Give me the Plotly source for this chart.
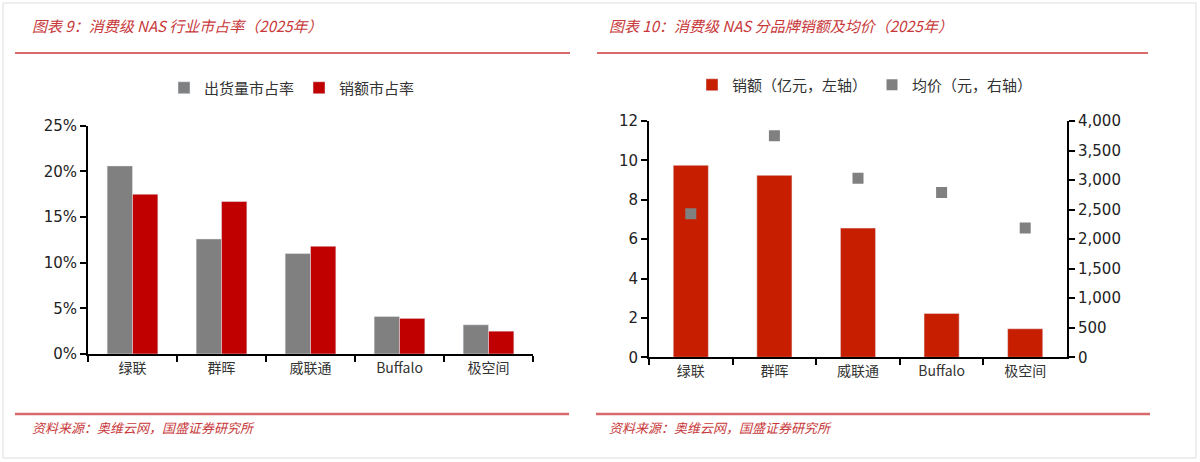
import plotly.graph_objects as go

W, H = 1200, 462

# ---- data ----
brands = ["绿联", "群晖", "威联通", "Buffalo", "极空间"]
ship_share = [0.206, 0.126, 0.110, 0.041, 0.032]
sales_share = [0.175, 0.167, 0.118, 0.039, 0.025]
sales_amt = [9.75, 9.24, 6.56, 2.23, 1.45]
avg_price = [2430, 3750, 3030, 2790, 2190]

left_ticks = [0, 0.05, 0.10, 0.15, 0.20, 0.25]
left_ticktext = ["0%", "5%", "10%", "15%", "20%", "25%"]
r1_ticks = [0, 2, 4, 6, 8, 10, 12]
r2_ticks = [0, 500, 1000, 1500, 2000, 2500, 3000, 3500, 4000]
r2_ticktext = ["0", "500", "1,000", "1,500", "2,000", "2,500", "3,000", "3,500", "4,000"]

title_left = "图表 9：消费级 NAS 行业市占率（2025年）"
title_right = "图表 10：消费级 NAS 分品牌销额及均价（2025年）"
source = "资料来源：奥维云网，国盛证券研究所"

GRAY = "#808080"
RED1 = "#C00000"
RED2 = "#C81E00"
HEAD = "#C8383A"
LINE = "#D96A6C"
CJK = "Noto Sans CJK SC"
NUM = "DejaVu Sans"


def px(x):
    return x / W


def py(y):
    return 1 - y / H


fig = go.Figure()

fig.add_trace(go.Bar(x=brands, y=ship_share, name="出货量市占率", marker_color=GRAY,
                     xaxis="x", yaxis="y", legend="legend"))
fig.add_trace(go.Bar(x=brands, y=sales_share, name="销额市占率", marker_color=RED1,
                     xaxis="x", yaxis="y", legend="legend"))
fig.add_trace(go.Bar(x=brands, y=sales_amt, name="销额（亿元，左轴）", marker_color=RED2,
                     xaxis="x2", yaxis="y2", legend="legend2", width=0.42))
fig.add_trace(go.Scatter(x=brands, y=avg_price, name="均价（元，右轴）", mode="markers",
                         marker=dict(symbol="square", size=11, color=GRAY),
                         xaxis="x2", yaxis="y3", legend="legend2"))

axis_common = dict(showline=True, linecolor="black", linewidth=2, showgrid=False,
                   zeroline=False, ticks="outside", tickcolor="black", tickwidth=2, ticklen=6)

fig.update_layout(
    width=W, height=H,
    margin=dict(l=0, r=0, t=0, b=0, autoexpand=False),
    paper_bgcolor="white", plot_bgcolor="white",
    bargap=0.43,
    xaxis=dict(domain=[px(88), px(533)], anchor="y", type="category", tickson="boundaries",
               tickfont=dict(family=CJK, size=14, color="#333"), **axis_common),
    yaxis=dict(domain=[py(354), py(125.7)], anchor="x", range=[0, 0.25],
               tickvals=left_ticks, ticktext=left_ticktext,
               tickfont=dict(family=NUM, size=15, color="#222"), **axis_common),
    xaxis2=dict(domain=[px(649), px(1067)], anchor="y2", type="category", tickson="boundaries",
                tickfont=dict(family=CJK, size=14, color="#333"), **axis_common),
    yaxis2=dict(domain=[py(357.3), py(121)], anchor="x2", range=[0, 12],
                tickvals=r1_ticks, tickfont=dict(family=NUM, size=15, color="#222"), **axis_common),
    yaxis3=dict(overlaying="y2", side="right", anchor="x2", range=[0, 4000],
                tickvals=r2_ticks, ticktext=r2_ticktext,
                tickfont=dict(family=NUM, size=15, color="#222"), **axis_common),
    legend=dict(orientation="h", x=px(292), y=py(88), xanchor="center", yanchor="middle",
                font=dict(family=CJK, size=15, color="#333"), itemwidth=30,
                bgcolor="rgba(0,0,0,0)"),
    legend2=dict(orientation="h", x=px(865), y=py(85), xanchor="center", yanchor="middle",
                 font=dict(family=CJK, size=15, color="#333"), itemwidth=30,
                 bgcolor="rgba(0,0,0,0)"),
    showlegend=True,
)

# headers, rules, sources
anns = [
    dict(text=title_left, x=px(30), y=py(26)),
    dict(text=title_right, x=px(607), y=py(26)),
    dict(text=source, x=px(30), y=py(427)),
    dict(text=source, x=px(607), y=py(427)),
]
for a in anns:
    fig.add_annotation(text="<i>" + a["text"] + "</i>", x=a["x"], y=a["y"], xref="paper", yref="paper",
                       xanchor="left", yanchor="middle", showarrow=False,
                       font=dict(family=CJK, size=15 if "图表" in a["text"] else 13, color=HEAD))

shapes = [
    dict(type="line", x0=px(15), x1=px(570), y0=py(53), y1=py(53), line=dict(color=LINE, width=2)),
    dict(type="line", x0=px(597), x1=px(1148), y0=py(53), y1=py(53), line=dict(color=LINE, width=2)),
    dict(type="line", x0=px(15), x1=px(569), y0=py(414), y1=py(414), line=dict(color=LINE, width=2.5)),
    dict(type="line", x0=px(596), x1=px(1150), y0=py(414), y1=py(414), line=dict(color=LINE, width=2.5)),
    dict(type="rect", x0=px(3), x1=px(1196), y0=py(458), y1=py(3), line=dict(color="#DDDDDD", width=1)),
]
for s in shapes:
    fig.add_shape(xref="paper", yref="paper", **s)

fig.write_html("out.html")
